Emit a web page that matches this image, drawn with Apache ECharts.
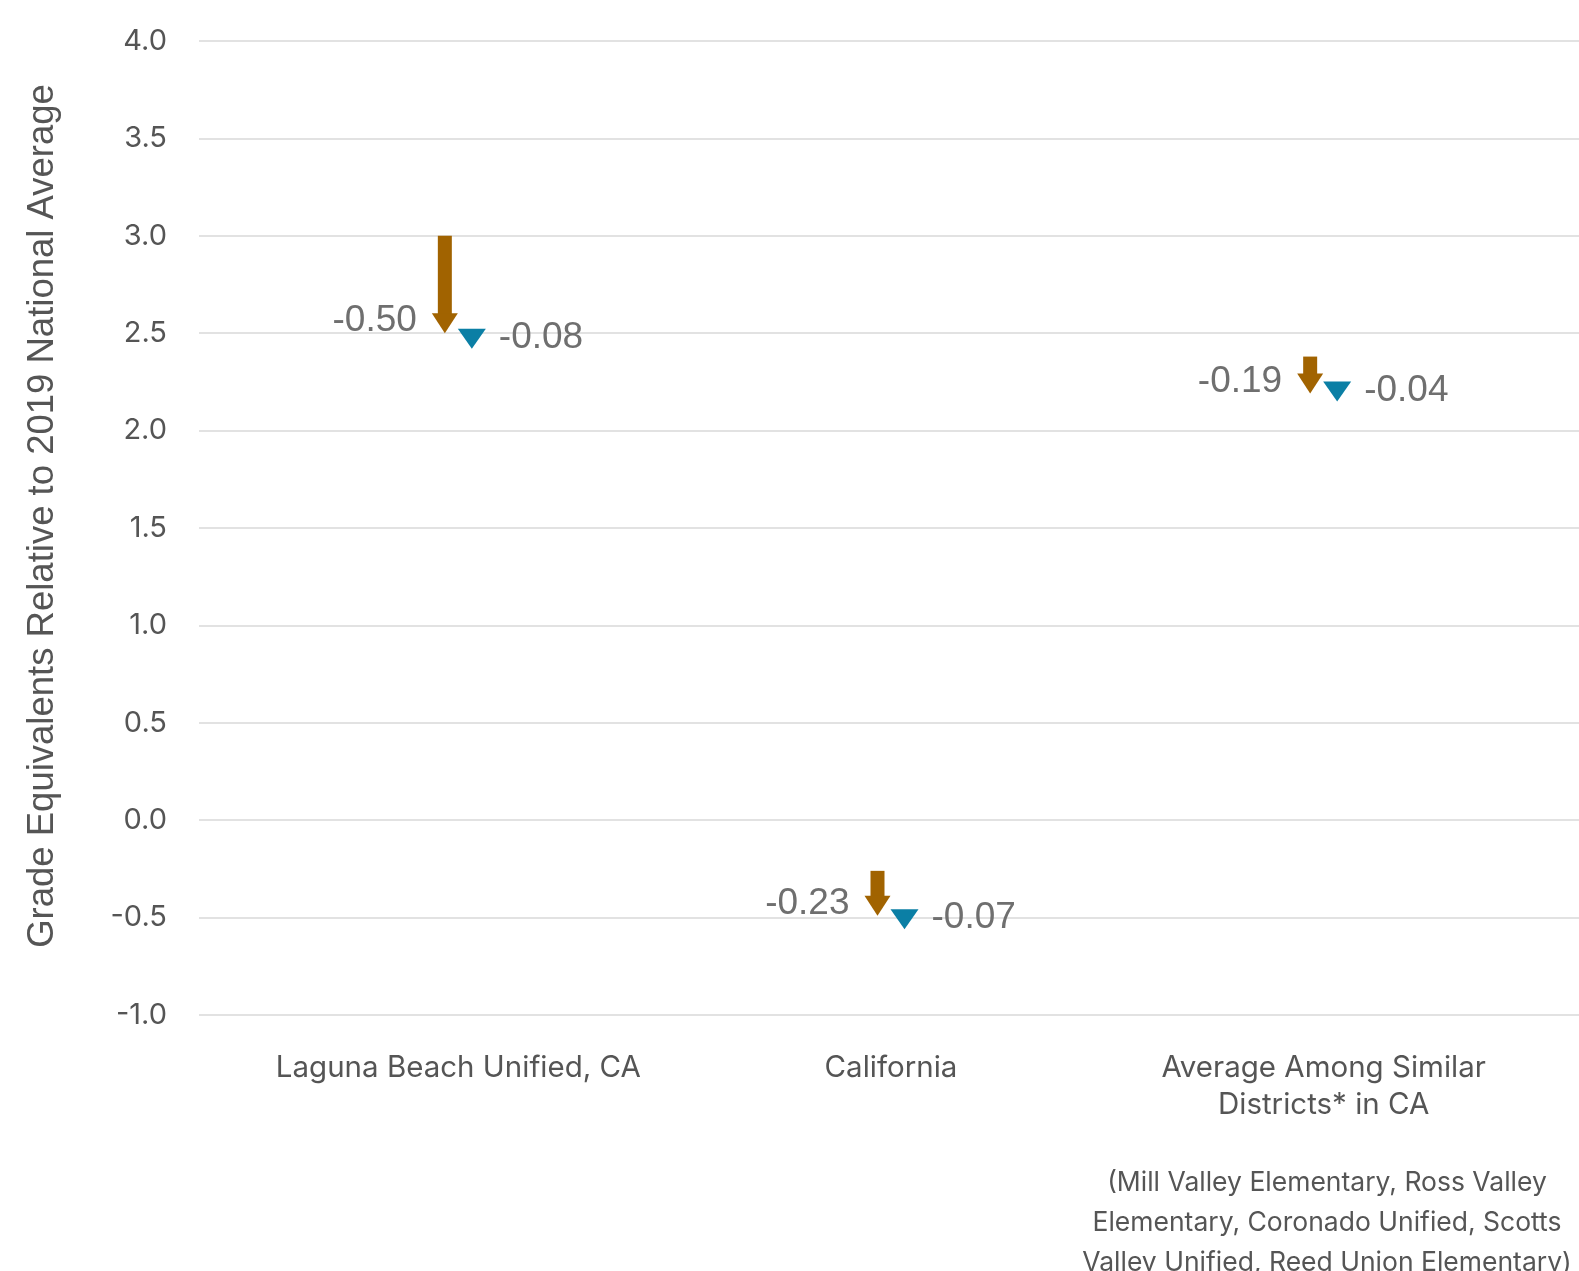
<!DOCTYPE html>
<html>
<head>
<meta charset="utf-8">
<script src="https://cdn.jsdelivr.net/npm/echarts@6/dist/echarts.min.js"></script>
<style>
html, body { margin: 0; padding: 0; background: #ffffff; }
#chart { width: 1579px; height: 1271px; }
</style>
</head>
<body>
<div id="chart"></div>
<script>
// categories and values
const categories = ['Laguna Beach Unified, CA', 'California', 'Average Among Similar\nDistricts* in CA'];
const startValues = [3.00, -0.26, 2.38];
const firstChange = [-0.50, -0.23, -0.19];
const secondChange = [-0.08, -0.07, -0.04];
const yTicks = { min: -1, max: 4, interval: 0.5 };
const footnote = '(Mill Valley Elementary, Ross Valley\nElementary, Coronado Unified, Scotts\nValley Unified, Reed Union Elementary)';

const brown = '#a16300';
const blue = '#0b7fa5';
const labelGrey = '#6f6f6f';
const axisGrey = '#555555';

var myChart = echarts.init(document.getElementById('chart'));

const arrowData = categories.map((c, i) => {
	const end1 = startValues[i] + firstChange[i];
	const end2 = end1 + secondChange[i];
	return [i, startValues[i], end1, end2, firstChange[i], secondChange[i]];
});

function fmt(v) {
	return v.toFixed(2);
}

function renderArrow(params, api) {
	const i = api.value(0);
	const p0 = api.coord([i, api.value(1)]);
	const p1 = api.coord([i, api.value(2)]);
	const p2 = api.coord([i, api.value(3)]);
	const bx = p0[0] - 13.5;   // brown arrow
	const tx = p0[0] + 13.5;   // blue triangle
	const headH = 20;
	return {
		type: 'group',
		children: [
			{
				type: 'rect',
				shape: { x: bx - 7, y: p0[1], width: 14, height: Math.max(0, p1[1] - headH - p0[1] + 1) },
				style: { fill: brown }
			},
			{
				type: 'polygon',
				shape: { points: [[bx - 13, p1[1] - headH], [bx + 13, p1[1] - headH], [bx, p1[1]]] },
				style: { fill: brown }
			},
			{
				type: 'polygon',
				shape: { points: [[tx - 14, p2[1] - headH], [tx + 14, p2[1] - headH], [tx, p2[1]]] },
				style: { fill: blue }
			},
			{
				type: 'text',
				x: bx - 28,
				y: p1[1] - headH / 2 - 2,
				style: {
					text: fmt(api.value(4)),
					fill: labelGrey,
					font: '37px "Liberation Sans", Arial, sans-serif',
					align: 'right',
					verticalAlign: 'middle'
				}
			},
			{
				type: 'text',
				x: tx + 27,
				y: p2[1] - headH / 2 - 1,
				style: {
					text: fmt(api.value(5)),
					fill: labelGrey,
					font: '37px "Liberation Sans", Arial, sans-serif',
					align: 'left',
					verticalAlign: 'middle'
				}
			}
		]
	};
}

var option = {
	backgroundColor: '#ffffff',
	animation: false,
	grid: [
		{ left: 199, right: 0, top: 41, bottom: 256 },   // grid lines + y labels
		{ left: 242, right: 39, top: 41, bottom: 256 }   // categories
	],
	xAxis: [
		{
			type: 'category',
			gridIndex: 0,
			data: [''],
			show: false
		},
		{
			type: 'category',
			gridIndex: 1,
			data: categories,
			boundaryGap: true,
			axisLine: { show: false },
			axisTick: { show: false },
			splitLine: { show: false },
			axisLabel: {
				margin: 35,
				color: axisGrey,
				fontFamily: 'Inter, sans-serif',
				fontSize: 29.5,
				lineHeight: 37,
				interval: 0
			}
		}
	],
	yAxis: [
		{
			type: 'value',
			gridIndex: 0,
			min: yTicks.min,
			max: yTicks.max,
			interval: yTicks.interval,
			axisLine: { show: false },
			axisTick: { show: false },
			axisLabel: {
				margin: 32,
				color: axisGrey,
				fontFamily: 'Inter, sans-serif',
				fontSize: 29,
				formatter: v => v.toFixed(1)
			},
			splitLine: { lineStyle: { color: '#e2e2e2', width: 2 } },
			name: 'Grade Equivalents Relative to 2019 National Average',
			nameLocation: 'middle',
			nameRotate: 90,
			nameGap: 138,
			nameTextStyle: {
				color: axisGrey,
				fontFamily: '"Liberation Sans", Arial, sans-serif',
				fontSize: 36.5,
				padding: [0, 0, 0, 24]
			}
		},
		{
			type: 'value',
			gridIndex: 1,
			min: yTicks.min,
			max: yTicks.max,
			interval: yTicks.interval,
			show: false,
			splitLine: { show: false }
		}
	],
	graphic: [
		{
			type: 'text',
			x: 1327,
			y: 1163,
			style: {
				text: footnote,
				fill: axisGrey,
				font: '26.5px Inter, sans-serif',
				lineHeight: 40,
				align: 'center',
				verticalAlign: 'top'
			}
		}
	],
	series: [
		{
			type: 'custom',
			xAxisIndex: 1,
			yAxisIndex: 1,
			renderItem: renderArrow,
			data: arrowData,
			clip: false
		}
	]
};

myChart.setOption(option);
</script>
</body>
</html>
